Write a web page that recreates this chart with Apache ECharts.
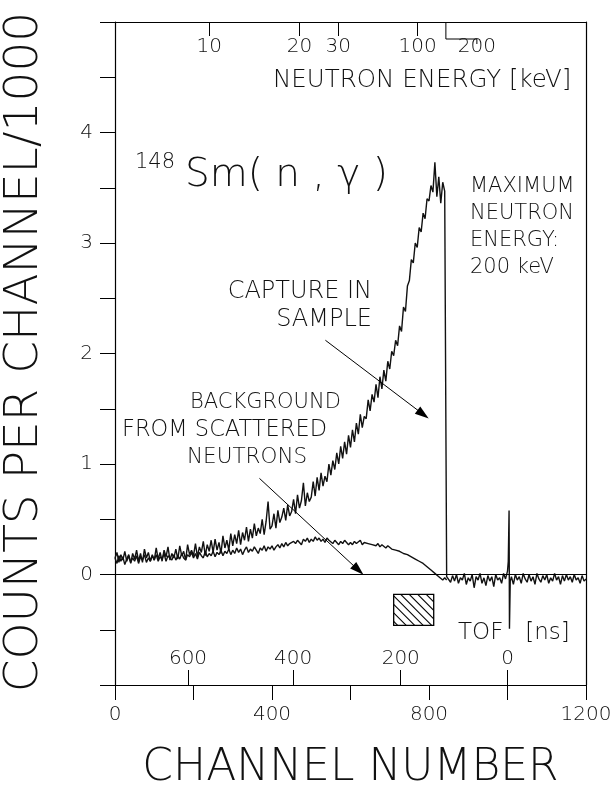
<!DOCTYPE html>
<html>
<head>
<meta charset="utf-8">
<script src="https://cdn.jsdelivr.net/npm/echarts@6/dist/echarts.min.js"></script>
<style>
html,body{margin:0;padding:0;background:#fff;}
#chart{width:616px;height:787px;}
</style>
</head>
<body>
<div id="chart"></div>
<script>
// ---------------- data ----------------
const channelStep = 5;
// capture in sample, channels 0..845 (step 5)
const captureRise = [
  0.15,0.20,0.11,0.18,0.13,0.21,0.12,0.17,0.10,0.19,
  0.14,0.22,0.12,0.19,0.11,0.23,0.15,0.20,0.12,0.18,
  0.13,0.24,0.14,0.20,0.12,0.22,0.16,0.25,0.13,0.19,
  0.15,0.23,0.14,0.26,0.17,0.21,0.13,0.27,0.18,0.22,
  0.17,0.28,0.16,0.25,0.20,0.30,0.17,0.27,0.21,0.31,
  0.20,0.32,0.22,0.29,0.19,0.35,0.24,0.31,0.22,0.37,
  0.26,0.36,0.28,0.40,0.27,0.38,0.31,0.43,0.30,0.41,
  0.33,0.46,0.35,0.42,0.37,0.50,0.36,0.48,0.66,0.41,
  0.44,0.55,0.42,0.58,0.47,0.52,0.60,0.49,0.63,0.53,
  0.57,0.68,0.55,0.72,0.60,0.67,0.83,0.62,0.74,0.66,
  0.70,0.84,0.71,0.88,0.76,0.92,0.80,0.89,0.84,1.00,
  0.90,1.03,0.95,1.10,1.00,1.16,1.05,1.20,1.09,1.26,
  1.15,1.31,1.20,1.37,1.27,1.45,1.33,1.43,1.41,1.58,
  1.48,1.63,1.56,1.72,1.60,1.79,1.68,1.85,1.75,1.93,
  1.86,2.02,1.98,2.12,2.07,2.25,2.20,2.42,2.38,2.61,
  2.66,2.85,2.82,3.00,2.96,3.14,3.10,3.27,3.22,3.40,
  3.38,3.52,3.46,3.73,3.42,3.60,3.36,3.55,3.47,-0.02
];
// capture tail, channels 850..995 (step 5)
const captureTail1Start = 850;
const captureTail1 = [
  -0.02,-0.07,-0.01,-0.06,0.00,-0.08,-0.03,-0.05,0.01,-0.09,
  -0.03,-0.06,0.00,-0.12,-0.02,-0.05,0.01,-0.08,-0.03,-0.10,
  -0.01,-0.06,-0.02,-0.11,0.00,-0.05,-0.03,-0.08,0.01,-0.04
];
// gamma flash spike
const spikeChannels = [1000, 1002, 1004, 1005, 1007];
const spikeValues   = [0.03, 0.12, 0.58, -0.49, -0.06];
// capture tail, channels 1010..1200 (step 5)
const captureTail2Start = 1010;
const captureTail2 = [
  -0.02,-0.09,0.00,-0.05,-0.02,-0.08,0.01,-0.04,-0.07,0.00,
  -0.06,-0.02,-0.09,0.01,-0.04,-0.07,-0.01,-0.05,0.00,-0.08,
  -0.03,-0.06,0.01,-0.05,-0.02,-0.09,-0.01,-0.06,0.00,-0.05,
  -0.02,-0.07,0.00,-0.05,-0.03,-0.08,-0.01,-0.06,-0.04
];
// background from scattered neutrons, channels 0..845 (step 5)
const backgroundValues = [
  0.15,0.10,0.17,0.12,0.16,0.09,0.14,0.18,0.11,0.15,
  0.12,0.17,0.10,0.16,0.13,0.18,0.11,0.15,0.12,0.17,
  0.13,0.18,0.12,0.16,0.14,0.19,0.12,0.17,0.15,0.13,
  0.18,0.13,0.17,0.14,0.19,0.15,0.13,0.18,0.16,0.20,
  0.15,0.19,0.14,0.20,0.17,0.15,0.21,0.16,0.19,0.17,
  0.21,0.16,0.20,0.18,0.22,0.17,0.21,0.19,0.23,0.18,
  0.22,0.19,0.24,0.20,0.23,0.18,0.22,0.25,0.20,0.23,
  0.21,0.25,0.22,0.19,0.24,0.22,0.26,0.21,0.25,0.23,
  0.26,0.22,0.25,0.27,0.24,0.28,0.25,0.29,0.26,0.28,
  0.27,0.30,0.28,0.31,0.29,0.27,0.32,0.30,0.33,0.29,
  0.32,0.30,0.34,0.31,0.33,0.30,0.32,0.29,0.33,0.31,
  0.30,0.28,0.31,0.29,0.27,0.30,0.28,0.31,0.29,0.27,
  0.29,0.27,0.30,0.28,0.29,0.31,0.27,0.29,0.30,0.28,
  0.29,0.27,0.28,0.26,0.28,0.25,0.27,0.26,0.24,0.26,
  0.25,0.23,0.24,0.22,0.23,0.21,0.22,0.19,0.20,0.18,
  0.18,0.16,0.16,0.14,0.14,0.12,0.11,0.10,0.09,0.07,
  0.06,0.04,0.03,0.01,0.00,-0.02,-0.03,-0.05,-0.03,-0.05
];
// axes / tick labels
const channelLabels = [0, 400, 800, 1200];
const countLabels = [0, 1, 2, 3, 4];
const tofLabels = [600, 400, 200, 0];
const tofChannels = [186, 454, 728, 1000];
const energyLabels = ['10', '20', '30', '100', '200'];
const energyTickChannels = [240, 470, 569, 771, 843];
const energyLabelChannels = [240, 470, 569, 771, 922];
// annotations (data coordinates)
const hatchedRegion = [710, 812, -0.46, -0.18];
const captureArrow = [[536, 2.12], [785, 1.45]];
const backgroundArrow = [[368, 0.87], [620, 0.04]];

// ---------------- build ----------------
const capturePoints = [];
captureRise.forEach((v, i) => capturePoints.push([i * channelStep, v]));
captureTail1.forEach((v, i) => capturePoints.push([captureTail1Start + i * channelStep, v]));
spikeChannels.forEach((c, i) => capturePoints.push([c, spikeValues[i]]));
captureTail2.forEach((v, i) => capturePoints.push([captureTail2Start + i * channelStep, v]));
const backgroundPoints = backgroundValues.map((v, i) => [i * channelStep, v]);

const FONT = 'DejaVu Sans';
const INK = '#111';
const chart = echarts.init(document.getElementById('chart'), null, {renderer: 'canvas'});

const axisLineStyle = {color: '#000', width: 1.2};
const labelStyle = {fontFamily: FONT, fontSize: 20, color: INK, fontWeight: 200};

chart.setOption({
  animation: false,
  backgroundColor: '#fff',
  grid: {left: 115, right: 30, top: 22, bottom: 102, containLabel: false, outerBoundsMode: 'none'},
  xAxis: [
    {
      type: 'value', position: 'bottom', min: 0, max: 1200, interval: 200,
      axisLine: {show: true, onZero: false, lineStyle: axisLineStyle},
      axisTick: {show: true, inside: false, length: 15, lineStyle: {color: '#000', width: 1}},
      axisLabel: Object.assign({margin: 20, customValues: channelLabels, formatter: (v) => String(v)}, labelStyle),
      splitLine: {show: false},
      name: 'CHANNEL NUMBER', nameLocation: 'middle', nameGap: 62,
      nameTextStyle: {fontFamily: FONT, fontSize: 44, color: INK, fontWeight: 200}
    },
    {
      type: 'value', position: 'bottom', min: 0, max: 1200,
      axisLine: {show: false, onZero: false},
      axisTick: {show: true, inside: true, length: 15, customValues: tofChannels, lineStyle: {color: '#000', width: 1}},
      axisLabel: Object.assign({inside: true, margin: 16, customValues: tofChannels,
        formatter: (v) => { const i = tofChannels.indexOf(v); return i >= 0 ? String(tofLabels[i]) : ''; }}, labelStyle),
      splitLine: {show: false}
    },
    {
      type: 'value', position: 'top', min: 0, max: 1200,
      axisLine: {show: true, onZero: false, lineStyle: axisLineStyle},
      axisTick: {show: true, inside: true, length: 14, customValues: energyTickChannels.slice(0, 4), lineStyle: {color: '#000', width: 1}},
      axisLabel: Object.assign({inside: true, margin: 15, customValues: energyLabelChannels,
        formatter: (v) => { const i = energyLabelChannels.indexOf(v); return i >= 0 ? energyLabels[i] : ''; }}, labelStyle),
      splitLine: {show: false}
    }
  ],
  yAxis: [
    {
      type: 'value', position: 'left', min: -1, max: 5, interval: 0.5,
      axisLine: {show: true, onZero: false, lineStyle: axisLineStyle},
      axisTick: {show: true, inside: false, length: 15, lineStyle: {color: '#000', width: 1}},
      axisLabel: Object.assign({margin: 22, customValues: countLabels, formatter: (v) => String(v)}, labelStyle),
      splitLine: {show: false}
    },
    {
      type: 'value', position: 'right', min: -1, max: 5,
      axisLine: {show: true, onZero: false, lineStyle: axisLineStyle},
      axisTick: {show: false}, axisLabel: {show: false}, splitLine: {show: false}
    }
  ],
  series: [
    {
      name: 'Background', type: 'line', xAxisIndex: 0, yAxisIndex: 0,
      data: backgroundPoints, showSymbol: false, symbol: 'none', silent: true,
      lineStyle: {color: INK, width: 1.4},
      markLine: {
        silent: true, symbol: 'none', label: {show: false},
        lineStyle: {color: '#000', width: 1, type: 'solid'},
        data: [
          {yAxis: 0},
          [{coord: captureArrow[0], symbol: 'none'}, {coord: captureArrow[1], symbol: 'triangle', symbolSize: [9, 14]}],
          [{coord: backgroundArrow[0], symbol: 'none'}, {coord: backgroundArrow[1], symbol: 'triangle', symbolSize: [9, 14]}]
        ]
      }
    },
    {
      name: 'Capture in sample', type: 'line', xAxisIndex: 0, yAxisIndex: 0,
      data: capturePoints, showSymbol: false, symbol: 'none', silent: true,
      lineStyle: {color: INK, width: 1.4}
    },
    {
      name: 'Hatched', type: 'custom', xAxisIndex: 0, yAxisIndex: 0, silent: true,
      data: [hatchedRegion],
      renderItem: (params, api) => {
        const p0 = api.coord([api.value(0), api.value(3)]);
        const p1 = api.coord([api.value(1), api.value(2)]);
        const x0 = p0[0], y0 = p0[1], w = p1[0] - p0[0], h = p1[1] - p0[1];
        const children = [{type: 'rect', shape: {x: x0, y: y0, width: w, height: h},
          style: {fill: 'none', stroke: '#000', lineWidth: 1.3}}];
        for (let k = -h + 4; k < w; k += 8.5) {
          const t0 = Math.max(0, -k), t1 = Math.min(h, w - k);
          if (t1 > t0) children.push({type: 'line',
            shape: {x1: x0 + k + t0, y1: y0 + t0, x2: x0 + k + t1, y2: y0 + t1},
            style: {stroke: '#000', lineWidth: 1.1}});
        }
        return {type: 'group', children: children};
      }
    }
  ]
});

// ---------------- annotations ----------------
function txt(text, x, y, size, align, lh) {
  return {type: 'text', x: x, y: y, silent: true,
    style: {text: text, fontFamily: FONT, fontSize: size, fontWeight: 200, fill: INK,
      align: align || 'left', verticalAlign: 'middle', lineHeight: lh || size}};
}
const bx0 = chart.convertToPixel({xAxisIndex: 2}, energyTickChannels[4]);
const bx1 = chart.convertToPixel({xAxisIndex: 2}, energyLabelChannels[4]);
chart.setOption({
  graphic: [
    {type: 'text', x: 25, y: 352, rotation: Math.PI / 2, silent: true,
      style: {text: 'COUNTS PER CHANNEL/1000', fontFamily: FONT, fontSize: 47, fontWeight: 200,
        fill: INK, align: 'center', verticalAlign: 'middle'}},
    txt('NEUTRON ENERGY [keV]', 273, 81, 24.5),
    txt('148', 135, 163, 21),
    txt('Sm( n , γ )', 185, 176, 39),
    txt('MAXIMUM\nNEUTRON\nENERGY:\n200 keV', 470, 227, 21, 'left', 27.3),
    txt('CAPTURE IN\nSAMPLE', 372, 306, 24, 'right', 28),
    txt('BACKGROUND', 190, 403, 21),
    txt('FROM SCATTERED', 122, 430, 22.5),
    txt('NEUTRONS', 187, 457, 21.5),
    txt('TOF   [ns]', 458, 633, 23),
    {type: 'polyline', silent: true,
      shape: {points: [[bx0, 22], [bx0, 39], [bx1, 39], [bx1, 44]]},
      style: {stroke: '#000', lineWidth: 1, fill: null}}
  ]
});
</script>
</body>
</html>
